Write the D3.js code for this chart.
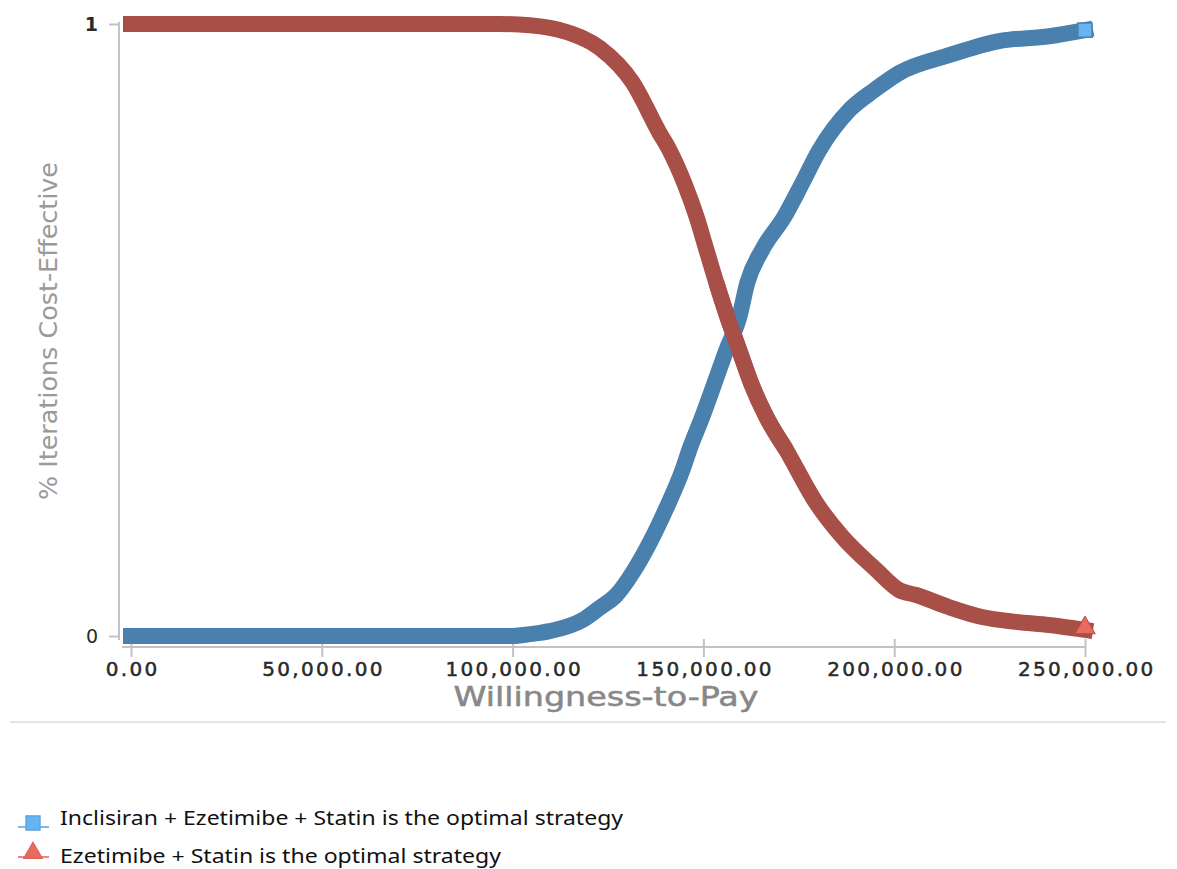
<!DOCTYPE html>
<html><head><meta charset="utf-8">
<script src="https://cdn.jsdelivr.net/npm/d3@7"></script>
<style>body{margin:0;background:#fff}svg{display:block}</style>
</head><body>
<svg id="c" width="1177" height="869"></svg>
<script>
// Data
const blueName = "Inclisiran + Ezetimibe + Statin is the optimal strategy";
const redName = "Ezetimibe + Statin is the optimal strategy";
const blueWTP = [0,100000,104500,109700,118300,122800,127200,131400,135900,140300,144500,146300,149700,152900,156000,159400,161500,165400,171200,175900,180400,188200,194800,201300,214400,227500,240600,250000];
const blueProb = [0,0,0.003,0.008,0.026,0.046,0.067,0.103,0.152,0.209,0.271,0.304,0.358,0.413,0.467,0.521,0.577,0.631,0.685,0.740,0.794,0.859,0.892,0.920,0.949,0.972,0.980,0.990];
const redWTP = [0,96600,104500,114100,122800,131400,138500,141100,145000,148200,150800,153400,156300,159400,162500,166500,171700,179600,186400,195300,201300,205800,214400,223000,231900,240600,250000];
const redProb = [1,1,0.998,0.987,0.961,0.905,0.822,0.794,0.740,0.685,0.631,0.577,0.521,0.467,0.413,0.358,0.304,0.217,0.162,0.108,0.075,0.067,0.047,0.031,0.023,0.018,0.010];
const xTicks = [0,50000,100000,150000,200000,250000];
const yTicks = [0,1];
const xTitle = "Willingness-to-Pay";
const yTitle = "% Iterations Cost-Effective";

const svg = d3.select("#c");
const x = d3.scaleLinear().domain([0,250000]).range([131,1085]);
const y = d3.scaleLinear().domain([0,1]).range([636,24]);

const blueBand = "#4a80ae", blueFill = "#68b3f3";
const redBand = "#a84f48", redFill = "#e96a5e";

// y axis
const yAxis = d3.axisLeft(y).tickValues(yTicks).tickFormat(d3.format("d")).tickSize(10).tickPadding(10);
const gy = svg.append("g").attr("transform","translate(119,0)").call(yAxis);
gy.select(".domain").attr("d","M0,22V640").attr("stroke","#c2c2c6").attr("stroke-width",2);
gy.selectAll(".tick line").attr("stroke","#c2c2c6").attr("stroke-width",2);
gy.selectAll(".tick text").attr("font-family","DejaVu Sans").attr("font-size",19).attr("fill","#2a2a2a")
  .attr("font-weight",d=>d===1?"bold":"normal").attr("x",-21);

// x axis
const xAxis = d3.axisBottom(x).tickValues(xTicks).tickFormat(d3.format(",.2f")).tickSize(6).tickPadding(14);
const gx = svg.append("g").attr("transform","translate(0,647)").call(xAxis);
gx.select(".domain").attr("d","M122,0H1086").attr("stroke","#c2c2c6").attr("stroke-width",2);
gx.selectAll(".tick line").attr("y1",-8).attr("y2",10).attr("stroke","#c2c2c6").attr("stroke-width",2);
gx.selectAll(".tick text").attr("font-family","DejaVu Sans").attr("font-size",20).attr("fill","#2a2a2a")
  .attr("stroke","#2a2a2a").attr("stroke-width",0.5)
  .attr("y",15).attr("letter-spacing","2.3px").attr("dx","1.2px");

// titles
svg.append("text").attr("x",606).attr("y",706).attr("text-anchor","middle")
  .attr("font-family","DejaVu Sans").attr("font-size",26).attr("fill","#888")
  .attr("stroke","#888").attr("stroke-width",0.5)
  .attr("textLength",305).attr("lengthAdjust","spacingAndGlyphs").text(xTitle);
svg.append("text").attr("transform","translate(57,331) rotate(-90)").attr("text-anchor","middle")
  .attr("font-family","DejaVu Sans").attr("font-size",25).attr("fill","#9a9a9a")
  .attr("textLength",338).attr("lengthAdjust","spacingAndGlyphs").text(yTitle);

// curves
const line = d3.line().x(d=>x(d[0])).y(d=>y(d[1])).curve(d3.curveMonotoneX);
const blueData = blueWTP.map((v,i)=>[v,blueProb[i]]);
const redData = redWTP.map((v,i)=>[v,redProb[i]]);
svg.append("path").datum(redData).attr("d",line).attr("fill","none").attr("stroke",redBand)
  .attr("stroke-width",16).attr("stroke-linejoin","round").attr("stroke-linecap","square");
svg.append("path").datum(blueData).attr("d",line).attr("fill","none").attr("stroke",blueBand)
  .attr("stroke-width",16).attr("stroke-linejoin","round").attr("stroke-linecap","square");
// red overlays blue just past the crossing, as in the original
svg.append("path").datum(redData.filter(d=>d[0]>=153400 && d[0]<=171700)).attr("d",line).attr("fill","none").attr("stroke",redBand)
  .attr("stroke-width",16).attr("stroke-linejoin","round");

// end markers
const sq = d3.symbol().type(d3.symbolSquare).size(200);
const tri = d3.symbol().type(d3.symbolTriangle).size(180);
const bl = blueData[blueData.length-1], rl = redData[redData.length-1];
svg.append("path").attr("d",sq).attr("transform",`translate(${x(bl[0])},${y(bl[1])})`)
  .attr("fill",blueFill).attr("stroke",blueBand).attr("stroke-width",1.5);
svg.append("path").attr("d",tri).attr("transform",`translate(${x(rl[0])},${y(rl[1])-2})`)
  .attr("fill",redFill).attr("stroke",redBand).attr("stroke-width",1);

// separator
svg.append("line").attr("x1",10).attr("x2",1166).attr("y1",722).attr("y2",722).attr("stroke","#dcdcdc").attr("stroke-width",1.5);

// legend
const leg = [{name:blueName, c:blueFill, s:"#5aa0dc", sym:d3.symbolSquare, size:200, ly:823, ty:825, tl:563},
             {name:redName, c:redFill, s:"#d9665c", sym:d3.symbolTriangle, size:150, ly:853, ty:863, tl:441}];
leg.forEach(l=>{
  svg.append("line").attr("x1",18).attr("x2",49).attr("y1",l.ly+4).attr("y2",l.ly+4).attr("stroke",l.s).attr("stroke-width",1.5);
  svg.append("path").attr("d",d3.symbol().type(l.sym).size(l.size)).attr("transform",`translate(33,${l.ly})`)
    .attr("fill",l.c).attr("stroke",l.s).attr("stroke-width",1.2);
  svg.append("text").attr("x",60).attr("y",l.ty).attr("font-family","Noto Sans").attr("font-size",20).attr("fill","#111")
    .attr("textLength",l.tl).attr("lengthAdjust","spacingAndGlyphs").text(l.name);
});
</script>
</body></html>
